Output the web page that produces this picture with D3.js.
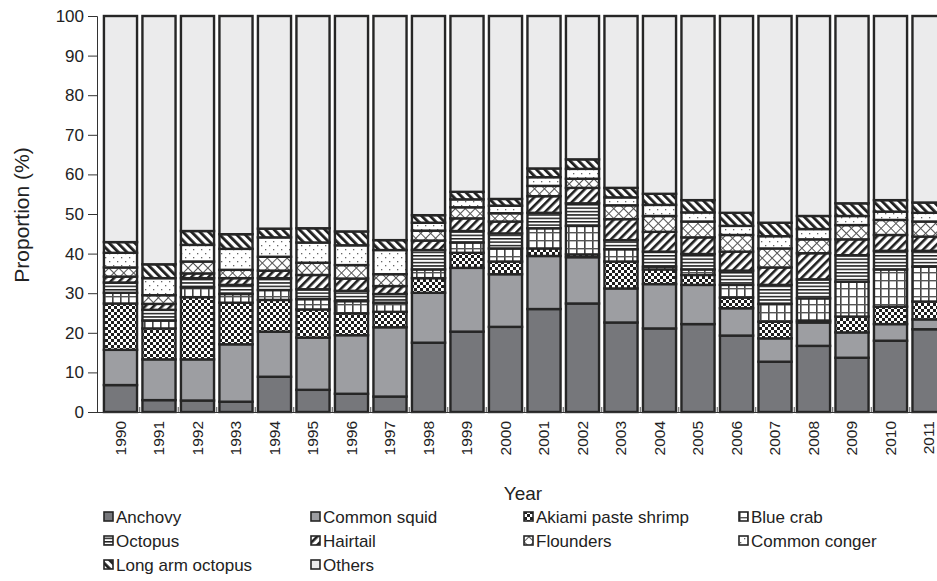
<!DOCTYPE html>
<html>
<head>
<meta charset="utf-8">
<script src="https://cdn.jsdelivr.net/npm/d3@7/dist/d3.min.js"></script>
<style>
  html, body { margin: 0; padding: 0; background: #fff; }
  svg { display: block; font-family: "Liberation Sans", Arial, sans-serif; }
</style>
</head>
<body>
<svg id="chart" width="937" height="581"></svg>
<script>
// Landing composition by species, share of total catch (%)
const years = ["1990","1991","1992","1993","1994","1995","1996","1997","1998","1999","2000",
               "2001","2002","2003","2004","2005","2006","2007","2008","2009","2010","2011"];

const anchovy        = [6.8, 3.0, 2.9, 2.6, 8.9, 5.6, 4.6, 3.9, 17.5, 20.3, 21.5, 26.0, 27.4, 22.6, 21.1, 22.2, 19.3, 12.7, 16.7, 13.7, 18.0, 20.9];
const commonSquid    = [8.9, 10.3, 10.4, 14.5, 11.4, 13.2, 14.8, 17.5, 12.6, 16.1, 13.3, 13.4, 11.7, 8.6, 11.2, 9.9, 6.9, 5.9, 5.9, 6.4, 4.2, 2.5];
const akiamiShrimp   = [11.7, 7.8, 15.7, 10.5, 8.0, 7.1, 5.5, 3.9, 3.7, 3.8, 3.2, 1.9, 0.7, 6.8, 3.7, 2.5, 2.7, 4.2, 0.5, 4.0, 4.4, 4.5];
const blueCrab       = [2.7, 2.0, 2.5, 2.2, 2.5, 2.6, 3.1, 2.3, 2.2, 2.6, 3.3, 5.1, 7.2, 3.1, 0.7, 1.4, 3.2, 4.5, 5.6, 8.8, 9.4, 8.8];
const octopus        = [2.6, 2.7, 2.3, 2.3, 3.0, 2.5, 2.6, 2.2, 4.9, 2.9, 3.8, 3.9, 5.7, 2.3, 3.8, 3.9, 3.6, 4.8, 4.8, 6.7, 4.7, 4.0];
const hairtail       = [1.5, 1.5, 1.2, 1.7, 1.9, 3.6, 3.1, 2.0, 2.4, 3.2, 3.0, 4.2, 3.9, 5.3, 5.0, 4.2, 4.8, 4.4, 6.6, 4.0, 4.0, 3.6];
const flounders      = [2.3, 2.2, 3.0, 2.1, 3.5, 3.1, 3.4, 3.0, 2.5, 2.8, 2.1, 2.6, 2.3, 3.5, 4.0, 4.0, 4.2, 4.8, 3.5, 3.6, 3.8, 3.8];
const commonConger   = [3.7, 4.3, 4.2, 5.3, 4.9, 5.1, 5.0, 6.1, 2.0, 2.0, 1.9, 2.2, 2.5, 2.0, 2.8, 2.3, 2.3, 3.1, 2.6, 2.3, 2.1, 2.2];
const longArmOctopus = [2.7, 3.5, 3.5, 3.7, 2.2, 3.6, 3.5, 2.5, 1.9, 1.9, 1.7, 2.2, 2.4, 2.4, 2.8, 3.1, 3.3, 3.4, 3.3, 3.2, 2.9, 2.6];
const others         = [57.1, 62.7, 54.3, 55.1, 53.7, 53.6, 54.4, 56.6, 50.3, 44.4, 46.2, 38.5, 36.2, 43.4, 44.9, 46.5, 49.7, 52.2, 50.5, 47.3, 46.5, 47.1];

const speciesNames = ["Anchovy", "Common squid", "Akiami paste shrimp", "Blue crab", "Octopus",
                      "Hairtail", "Flounders", "Common conger", "Long arm octopus", "Others"];
const speciesValues = [anchovy, commonSquid, akiamiShrimp, blueCrab, octopus,
                       hairtail, flounders, commonConger, longArmOctopus, others];
const yTicks = [0, 10, 20, 30, 40, 50, 60, 70, 80, 90, 100];

// rows for d3.stack
const rows = years.map((y, i) => {
  const r = { year: y };
  speciesNames.forEach((n, k) => { r[n] = speciesValues[k][i]; });
  return r;
});

const svg = d3.select("#chart");
const defs = svg.append("defs");
const ink = "#1f1f1f";
const textColor = "#222";

// ---- fill patterns ----
function pat(id, w, h, draw, transform) {
  const p = defs.append("pattern").attr("id", id).attr("patternUnits", "userSpaceOnUse")
    .attr("width", w).attr("height", h);
  if (transform) p.attr("patternTransform", transform);
  p.append("rect").attr("width", w).attr("height", h).attr("fill", "#fff");
  draw(p);
}
pat("p-checker", 6, 6, p => {
  p.append("rect").attr("x", 0).attr("y", 0).attr("width", 3).attr("height", 3).attr("fill", ink);
  p.append("rect").attr("x", 3).attr("y", 3).attr("width", 3).attr("height", 3).attr("fill", ink);
});
pat("p-grid", 8, 8, p => {
  p.append("rect").attr("x", 0).attr("y", 0).attr("width", 1.6).attr("height", 8).attr("fill", "#444");
  p.append("rect").attr("x", 0).attr("y", 0).attr("width", 8).attr("height", 1.4).attr("fill", "#555");
});
pat("p-hlines", 4, 3.4, p => {
  p.append("rect").attr("x", 0).attr("y", 0).attr("width", 4).attr("height", 1.5).attr("fill", ink);
});
pat("p-fwd", 6, 6, p => {
  p.append("rect").attr("x", 0).attr("y", 0).attr("width", 2.6).attr("height", 6).attr("fill", ink);
}, "rotate(45)");
pat("p-cross", 7, 7, p => {
  p.append("rect").attr("x", 0).attr("y", 0).attr("width", 1).attr("height", 7).attr("fill", "#555");
  p.append("rect").attr("x", 0).attr("y", 0).attr("width", 7).attr("height", 1).attr("fill", "#555");
}, "rotate(45)");
pat("p-dots", 8, 8, p => {
  p.append("rect").attr("x", 1).attr("y", 1).attr("width", 1.3).attr("height", 1.3).attr("fill", "#666");
  p.append("rect").attr("x", 5).attr("y", 5).attr("width", 1.3).attr("height", 1.3).attr("fill", "#666");
});
pat("p-back", 6, 6, p => {
  p.append("rect").attr("x", 0).attr("y", 0).attr("width", 2.8).attr("height", 6).attr("fill", ink);
}, "rotate(-45)");

const fills = ["#76777b", "#9d9ea2", "url(#p-checker)", "url(#p-grid)", "url(#p-hlines)",
               "url(#p-fwd)", "url(#p-cross)", "url(#p-dots)", "url(#p-back)", "#ebebec"];

// ---- scales ----
const x = d3.scaleBand().domain(years).range([97, 952.5]).paddingInner(0.14).paddingOuter(0.18);
const y = d3.scaleLinear().domain([0, 100]).range([412, 16]);

const series = d3.stack().keys(speciesNames)(rows);

// ---- bars ----
const g = svg.append("g");
g.selectAll("g.layer").data(series).join("g")
  .attr("class", "layer")
  .attr("fill", (d, i) => fills[i])
  .selectAll("rect").data(d => d).join("rect")
  .attr("x", d => x(d.data.year))
  .attr("width", x.bandwidth())
  .attr("y", d => y(d[1]))
  .attr("height", d => y(d[0]) - y(d[1]))
  .attr("stroke", "#262626")
  .attr("stroke-width", 2.4);

// ---- axes ----
const yAxis = d3.axisLeft(y).tickValues(yTicks).tickSize(9).tickPadding(4);
const ya = svg.append("g").attr("transform", "translate(97,0)").call(yAxis);
ya.select(".domain").attr("stroke", "#333").attr("stroke-width", 1);
ya.selectAll(".tick line").attr("stroke", "#333");
ya.selectAll("text").attr("font-size", 17).attr("fill", textColor)
  .attr("font-family", "'Liberation Sans', Arial, sans-serif");

// category axis: baseline plus short tick marks between bars
svg.append("line").attr("x1", 97).attr("x2", 937).attr("y1", 412.5).attr("y2", 412.5)
  .attr("stroke", "#333").attr("stroke-width", 1);
svg.append("g").selectAll("line").data(years.slice(1)).join("line")
  .attr("x1", d => x(d) - x.step() * x.paddingInner() / 2)
  .attr("x2", d => x(d) - x.step() * x.paddingInner() / 2)
  .attr("y1", 412).attr("y2", 407)
  .attr("stroke", "#555").attr("stroke-width", 1);

svg.append("g").selectAll("text").data(years).join("text")
  .attr("transform", d => `translate(${x(d) + x.bandwidth() / 2},421) rotate(-90)`)
  .attr("text-anchor", "end")
  .attr("dy", "0.35em")
  .attr("font-size", 15.5).attr("fill", textColor)
  .text(d => d);

// axis titles
svg.append("text").attr("x", 523).attr("y", 500).attr("text-anchor", "middle")
  .attr("font-size", 19).attr("fill", textColor).text("Year");
svg.append("text").attr("transform", "translate(29,215) rotate(-90)")
  .attr("text-anchor", "middle").attr("font-size", 21).attr("fill", textColor).text("Proportion (%)");

// ---- legend ----
const legCols = [104, 311, 524, 739];
const legRows = [517, 541, 565];
const leg = svg.append("g").selectAll("g").data(speciesNames).join("g")
  .attr("transform", (d, i) => `translate(${legCols[i % 4]},${legRows[Math.floor(i / 4)]})`);
leg.append("rect").attr("x", 0).attr("y", -5).attr("width", 9).attr("height", 9)
  .attr("fill", (d, i) => fills[i]).attr("stroke", "#262626").attr("stroke-width", 1.6);
leg.append("text").attr("x", 12).attr("dy", "0.35em").attr("font-size", 17).attr("fill", textColor)
  .text(d => d);
</script>
</body>
</html>
